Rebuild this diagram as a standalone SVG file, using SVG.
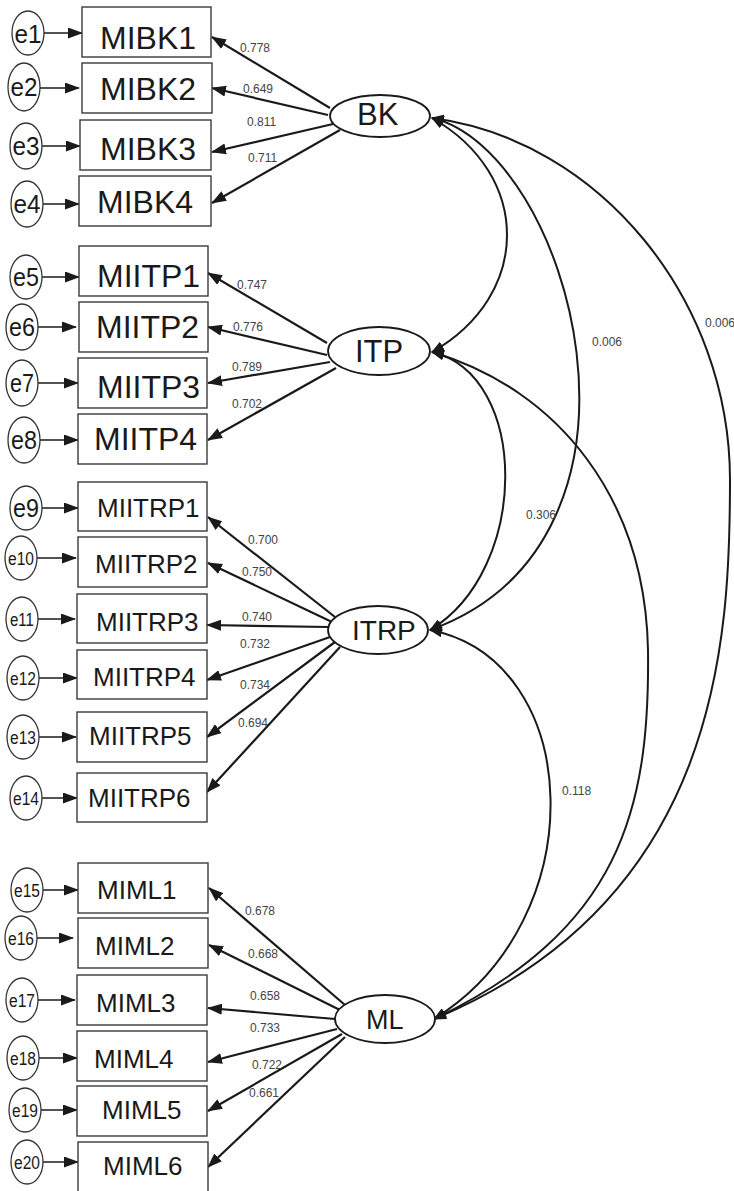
<svg xmlns="http://www.w3.org/2000/svg" width="734" height="1191" viewBox="0 0 734 1191">
<style>
.bg{fill:#fff}
.box{fill:#fff;stroke:#3a3a3a;stroke-width:1.4}
.lat{fill:#fff;stroke:#1a1a1a;stroke-width:1.8}
.err{fill:#fff;stroke:#333;stroke-width:1.3}
.bt{font-family:"Liberation Sans",Arial,sans-serif;fill:#1a1a1a}
.lt{font-family:"Liberation Sans",Arial,sans-serif;fill:#1a1a1a}
.et{font-family:"Liberation Sans",Arial,sans-serif;fill:#1a1a1a;text-anchor:middle}
.num{font-family:"Liberation Sans",Arial,sans-serif;font-size:12px;fill:#444}
.ld{stroke:#1a1a1a;stroke-width:2.2;fill:none;marker-end:url(#ah)}
.ea{stroke:#1a1a1a;stroke-width:1.3;fill:none;marker-end:url(#eh)}
.cv{stroke:#1a1a1a;stroke-width:2;fill:none;marker-start:url(#ch);marker-end:url(#ch)}
</style>
<defs>
<marker id="ah" markerUnits="userSpaceOnUse" markerWidth="15" markerHeight="11" refX="14" refY="5.5" orient="auto"><path d="M0,0 L15,5.5 L0,11 z" fill="#1a1a1a"/></marker>
<marker id="eh" markerUnits="userSpaceOnUse" markerWidth="15" markerHeight="11" refX="14" refY="5.5" orient="auto"><path d="M0,0 L15,5.5 L0,11 z" fill="#1a1a1a"/></marker>
<marker id="ch" markerUnits="userSpaceOnUse" markerWidth="13" markerHeight="10" refX="12" refY="5" orient="auto-start-reverse"><path d="M0,0 L13,5 L0,10 z" fill="#1a1a1a"/></marker>
</defs>
<rect class="bg" x="0" y="0" width="734" height="1191"/>

<g id="connectors">
<line class="ea" x1="44" y1="33" x2="82" y2="33"/>
<line class="ea" x1="40" y1="88" x2="79" y2="88"/>
<line class="ea" x1="42" y1="146" x2="80" y2="146"/>
<line class="ea" x1="43" y1="204" x2="79" y2="204"/>
<line class="ea" x1="42" y1="277" x2="79" y2="277"/>
<line class="ea" x1="38" y1="327" x2="76" y2="327"/>
<line class="ea" x1="38" y1="383" x2="78" y2="383"/>
<line class="ea" x1="40" y1="440" x2="78" y2="440"/>
<line class="ea" x1="42" y1="508" x2="78" y2="508"/>
<line class="ea" x1="37" y1="558" x2="76" y2="558"/>
<line class="ea" x1="38" y1="619" x2="75" y2="619"/>
<line class="ea" x1="39" y1="678" x2="77" y2="678"/>
<line class="ea" x1="39" y1="737" x2="76" y2="737"/>
<line class="ea" x1="42" y1="798" x2="77" y2="798"/>
<line class="ea" x1="43" y1="890" x2="78" y2="890"/>
<line class="ea" x1="37" y1="938" x2="73" y2="938"/>
<line class="ea" x1="38" y1="1000" x2="75" y2="1000"/>
<line class="ea" x1="39" y1="1058" x2="77" y2="1058"/>
<line class="ea" x1="41" y1="1110" x2="77" y2="1110"/>
<line class="ea" x1="43" y1="1162" x2="78" y2="1162"/>
<line class="ld" x1="330" y1="108" x2="212" y2="37"/>
<line class="ld" x1="328" y1="115" x2="212" y2="88"/>
<line class="ld" x1="333" y1="124" x2="212" y2="152"/>
<line class="ld" x1="340" y1="130" x2="212" y2="203"/>
<line class="ld" x1="327" y1="343" x2="208" y2="273"/>
<line class="ld" x1="327" y1="355" x2="208" y2="327"/>
<line class="ld" x1="330" y1="362" x2="208" y2="383"/>
<line class="ld" x1="336" y1="368" x2="208" y2="440"/>
<line class="ld" x1="335" y1="617" x2="208" y2="517"/>
<line class="ld" x1="332" y1="622" x2="208" y2="563"/>
<line class="ld" x1="328" y1="627" x2="207" y2="625"/>
<line class="ld" x1="330" y1="637" x2="207" y2="680"/>
<line class="ld" x1="335" y1="642" x2="207" y2="737"/>
<line class="ld" x1="340" y1="647" x2="207" y2="792"/>
<line class="ld" x1="345" y1="1005" x2="209" y2="888"/>
<line class="ld" x1="340" y1="1010" x2="209" y2="945"/>
<line class="ld" x1="335" y1="1019" x2="208" y2="1008"/>
<line class="ld" x1="337" y1="1029" x2="208" y2="1062"/>
<line class="ld" x1="342" y1="1034" x2="208" y2="1111"/>
<line class="ld" x1="345" y1="1037" x2="208" y2="1167"/>
<path class="cv" d="M432,118 C532,175 532,295 432,352"/>
<path class="cv" d="M432,118 C570,150 680,540 430,630"/>
<path class="cv" d="M432,118 C600,140 730,300 730,480 C730,640 720,900 434,1019"/>
<path class="cv" d="M432,352 C530,375 530,570 430,630"/>
<path class="cv" d="M432,352 C560,390 645,500 648,650 C650,810 620,930 434,1019"/>
<path class="cv" d="M430,630 C585,660 595,920 434,1019"/>
<text class="num" x="240" y="52">0.778</text>
<text class="num" x="243" y="93">0.649</text>
<text class="num" x="247" y="126">0.811</text>
<text class="num" x="248" y="162">0.711</text>
<text class="num" x="237" y="289">0.747</text>
<text class="num" x="233" y="331">0.776</text>
<text class="num" x="232" y="371">0.789</text>
<text class="num" x="232" y="408">0.702</text>
<text class="num" x="248" y="544">0.700</text>
<text class="num" x="242" y="576">0.750</text>
<text class="num" x="242" y="621">0.740</text>
<text class="num" x="240" y="648">0.732</text>
<text class="num" x="240" y="689">0.734</text>
<text class="num" x="238" y="727">0.694</text>
<text class="num" x="245" y="915">0.678</text>
<text class="num" x="248" y="958">0.668</text>
<text class="num" x="250" y="1000">0.658</text>
<text class="num" x="250" y="1032">0.733</text>
<text class="num" x="252" y="1069">0.722</text>
<text class="num" x="249" y="1097">0.661</text>
<text class="num" x="592" y="346">0.006</text>
<text class="num" x="705" y="327">0.006</text>
<text class="num" x="526" y="519">0.306</text>
<text class="num" x="562" y="795">0.118</text>
</g>

<g id="BK"><ellipse class="lat" cx="380" cy="116" rx="50" ry="21"/><text class="lt" x="357" y="125" font-size="31">BK</text></g>
<g id="ITP"><ellipse class="lat" cx="379" cy="351" rx="51" ry="24"/><text class="lt" x="355" y="362" font-size="31">ITP</text></g>
<g id="ITRP"><ellipse class="lat" cx="378" cy="630" rx="50" ry="24"/><text class="lt" x="352" y="640" font-size="28">ITRP</text></g>
<g id="ML"><ellipse class="lat" cx="385" cy="1019" rx="50" ry="24"/><text class="lt" x="366" y="1029" font-size="27">ML</text></g>

<g id="MIBK1"><rect class="box" x="82" y="7" width="129" height="50"/><text class="bt" x="100" y="49" font-size="32">MIBK1</text></g>
<g id="MIBK2"><rect class="box" x="82" y="63" width="130" height="50"/><text class="bt" x="100" y="100" font-size="32">MIBK2</text></g>
<g id="MIBK3"><rect class="box" x="80" y="120" width="131" height="50"/><text class="bt" x="100" y="160" font-size="32">MIBK3</text></g>
<g id="MIBK4"><rect class="box" x="79" y="176" width="132" height="50"/><text class="bt" x="97" y="213" font-size="32">MIBK4</text></g>
<g id="MIITP1"><rect class="box" x="79" y="246" width="129" height="50"/><text class="bt" x="97" y="287" font-size="32">MIITP1</text></g>
<g id="MIITP2"><rect class="box" x="79" y="302" width="129" height="50"/><text class="bt" x="96" y="338" font-size="32">MIITP2</text></g>
<g id="MIITP3"><rect class="box" x="78" y="358" width="129" height="50"/><text class="bt" x="97" y="398" font-size="32">MIITP3</text></g>
<g id="MIITP4"><rect class="box" x="78" y="414" width="129" height="50"/><text class="bt" x="94" y="450" font-size="32">MIITP4</text></g>
<g id="MIITRP1"><rect class="box" x="78" y="482" width="129" height="49"/><text class="bt" x="97" y="517" font-size="26">MIITRP1</text></g>
<g id="MIITRP2"><rect class="box" x="78" y="537" width="129" height="50"/><text class="bt" x="95" y="573" font-size="26">MIITRP2</text></g>
<g id="MIITRP3"><rect class="box" x="77" y="594" width="130" height="49"/><text class="bt" x="96" y="631" font-size="26">MIITRP3</text></g>
<g id="MIITRP4"><rect class="box" x="77" y="650" width="130" height="49"/><text class="bt" x="93" y="686" font-size="26">MIITRP4</text></g>
<g id="MIITRP5"><rect class="box" x="77" y="712" width="130" height="50"/><text class="bt" x="89" y="745" font-size="26">MIITRP5</text></g>
<g id="MIITRP6"><rect class="box" x="77" y="773" width="130" height="49"/><text class="bt" x="88" y="807" font-size="26">MIITRP6</text></g>
<g id="MIML1"><rect class="box" x="78" y="863" width="130" height="50"/><text class="bt" x="97" y="899" font-size="26">MIML1</text></g>
<g id="MIML2"><rect class="box" x="78" y="918" width="130" height="50"/><text class="bt" x="95" y="955" font-size="26">MIML2</text></g>
<g id="MIML3"><rect class="box" x="77" y="975" width="130" height="50"/><text class="bt" x="96" y="1012" font-size="26">MIML3</text></g>
<g id="MIML4"><rect class="box" x="77" y="1031" width="130" height="50"/><text class="bt" x="94" y="1068" font-size="26">MIML4</text></g>
<g id="MIML5"><rect class="box" x="77" y="1086" width="130" height="50"/><text class="bt" x="102" y="1119" font-size="26">MIML5</text></g>
<g id="MIML6"><rect class="box" x="78" y="1142" width="130" height="52"/><text class="bt" x="103" y="1175" font-size="26">MIML6</text></g>

<g id="e1"><ellipse class="err" cx="28" cy="33" rx="16" ry="22"/><text class="et" x="28" y="43" font-size="26" textLength="27" lengthAdjust="spacingAndGlyphs">e1</text></g>
<g id="e2"><ellipse class="err" cx="24" cy="87" rx="16" ry="24"/><text class="et" x="24" y="96" font-size="25" textLength="27" lengthAdjust="spacingAndGlyphs">e2</text></g>
<g id="e3"><ellipse class="err" cx="26" cy="146" rx="16" ry="23"/><text class="et" x="26" y="155" font-size="25" textLength="27" lengthAdjust="spacingAndGlyphs">e3</text></g>
<g id="e4"><ellipse class="err" cx="27" cy="204" rx="16" ry="23"/><text class="et" x="27" y="213" font-size="25" textLength="27" lengthAdjust="spacingAndGlyphs">e4</text></g>
<g id="e5"><ellipse class="err" cx="26" cy="277" rx="16" ry="22"/><text class="et" x="26" y="286" font-size="25" textLength="26" lengthAdjust="spacingAndGlyphs">e5</text></g>
<g id="e6"><ellipse class="err" cx="22" cy="327" rx="16" ry="23"/><text class="et" x="22" y="336" font-size="25" textLength="26" lengthAdjust="spacingAndGlyphs">e6</text></g>
<g id="e7"><ellipse class="err" cx="22" cy="383" rx="16" ry="23"/><text class="et" x="22" y="392" font-size="25" textLength="24" lengthAdjust="spacingAndGlyphs">e7</text></g>
<g id="e8"><ellipse class="err" cx="24" cy="440" rx="16" ry="23"/><text class="et" x="24" y="449" font-size="25" textLength="26" lengthAdjust="spacingAndGlyphs">e8</text></g>
<g id="e9"><ellipse class="err" cx="26" cy="508" rx="16" ry="22"/><text class="et" x="26" y="517" font-size="25" textLength="26" lengthAdjust="spacingAndGlyphs">e9</text></g>
<g id="e10"><ellipse class="err" cx="21" cy="558" rx="16" ry="22"/><text class="et" x="21" y="565" font-size="18" textLength="26" lengthAdjust="spacingAndGlyphs">e10</text></g>
<g id="e11"><ellipse class="err" cx="22" cy="619" rx="16" ry="22"/><text class="et" x="22" y="626" font-size="18" textLength="24" lengthAdjust="spacingAndGlyphs">e11</text></g>
<g id="e12"><ellipse class="err" cx="23" cy="678" rx="16" ry="22"/><text class="et" x="23" y="685" font-size="18" textLength="26" lengthAdjust="spacingAndGlyphs">e12</text></g>
<g id="e13"><ellipse class="err" cx="23" cy="737" rx="16" ry="22"/><text class="et" x="23" y="744" font-size="18" textLength="26" lengthAdjust="spacingAndGlyphs">e13</text></g>
<g id="e14"><ellipse class="err" cx="26" cy="798" rx="16" ry="22"/><text class="et" x="26" y="805" font-size="18" textLength="26" lengthAdjust="spacingAndGlyphs">e14</text></g>
<g id="e15"><ellipse class="err" cx="27" cy="890" rx="16" ry="22"/><text class="et" x="27" y="897" font-size="18" textLength="26" lengthAdjust="spacingAndGlyphs">e15</text></g>
<g id="e16"><ellipse class="err" cx="21" cy="938" rx="16" ry="22"/><text class="et" x="21" y="945" font-size="18" textLength="26" lengthAdjust="spacingAndGlyphs">e16</text></g>
<g id="e17"><ellipse class="err" cx="22" cy="1000" rx="16" ry="22"/><text class="et" x="22" y="1007" font-size="18" textLength="26" lengthAdjust="spacingAndGlyphs">e17</text></g>
<g id="e18"><ellipse class="err" cx="23" cy="1058" rx="16" ry="22"/><text class="et" x="23" y="1065" font-size="18" textLength="26" lengthAdjust="spacingAndGlyphs">e18</text></g>
<g id="e19"><ellipse class="err" cx="25" cy="1110" rx="16" ry="22"/><text class="et" x="25" y="1117" font-size="18" textLength="26" lengthAdjust="spacingAndGlyphs">e19</text></g>
<g id="e20"><ellipse class="err" cx="27" cy="1162" rx="16" ry="22"/><text class="et" x="27" y="1169" font-size="18" textLength="26" lengthAdjust="spacingAndGlyphs">e20</text></g>
</svg>
